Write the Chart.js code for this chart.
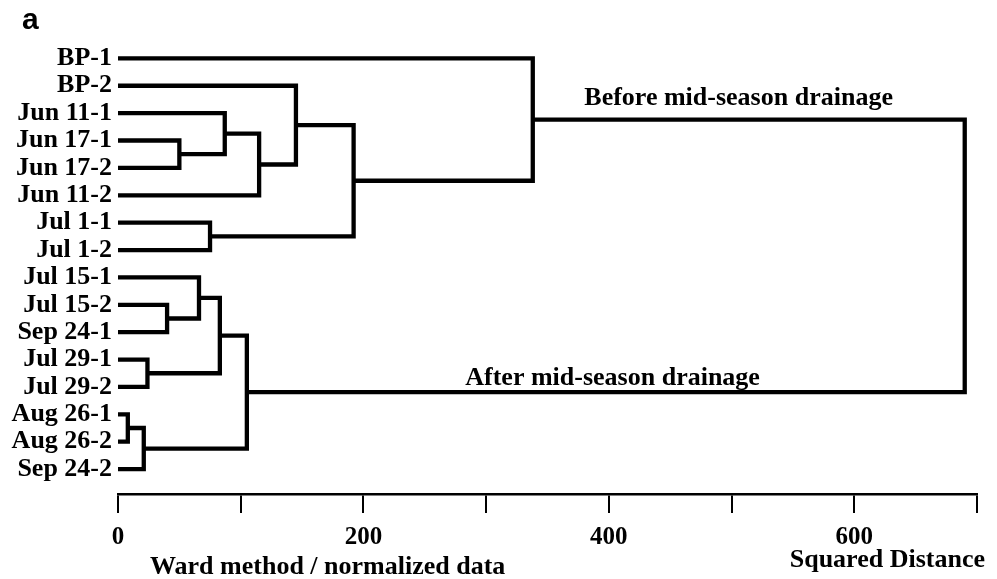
<!DOCTYPE html>
<html>
<head>
<meta charset="utf-8">
<script src="https://cdn.jsdelivr.net/npm/chart.js@4/dist/chart.umd.min.js"></script>
<style>
  body { margin: 0; background: #fff; }
  #wrap { width: 997px; height: 579px; position: relative; }
</style>
</head>
<body>
<div id="wrap"><canvas id="chart"></canvas></div>
<script>
'use strict';

// samples, top to bottom as they sit in the tree
const leaves = [
  'BP-1', 'BP-2', 'Jun 11-1', 'Jun 17-1', 'Jun 17-2', 'Jun 11-2', 'Jul 1-1', 'Jul 1-2',
  'Jul 15-1', 'Jul 15-2', 'Sep 24-1', 'Jul 29-1', 'Jul 29-2', 'Aug 26-1', 'Aug 26-2', 'Sep 24-2'
];

// merge steps: [child a, child b, squared distance]
// ids 0-15 are the leaves, merge k makes cluster 16 + k
const merges = [
  [3, 4, 50],
  [2, 16, 87],
  [17, 5, 115],
  [1, 18, 145],
  [6, 7, 75],
  [19, 20, 192],
  [0, 21, 338],
  [9, 10, 40],
  [8, 23, 66],
  [11, 12, 24],
  [24, 25, 83],
  [13, 14, 8],
  [27, 15, 21],
  [26, 28, 105],
  [22, 29, 690]
];

const xTickLabels = [0, 200, 400, 600];

// walk the merges, each one gives a U shaped link
const nodes = leaves.map((_, i) => ({ x: 0, y: i }));
const links = [];
merges.forEach(([a, b, h]) => {
  const A = nodes[a], B = nodes[b];
  links.push([
    { x: A.x, y: A.y }, { x: h, y: A.y },
    { x: h, y: B.y }, { x: B.x, y: B.y }
  ]);
  nodes.push({ x: h, y: (A.y + B.y) / 2 });
});

const serif = '"Liberation Serif", "Times New Roman", serif';

const textPlugin = {
  id: 'extraText',
  afterDraw(chart) {
    const ctx = chart.ctx;
    const sx = chart.scales.x, sy = chart.scales.y;
    ctx.save();
    ctx.fillStyle = '#000';
    ctx.textBaseline = 'alphabetic';
    ctx.textAlign = 'left';
    ctx.font = 'bold 30px "Liberation Sans", Arial, sans-serif';
    ctx.fillText('a', 22, 29);
    ctx.font = 'bold 26px ' + serif;
    ctx.fillText('Before mid-season drainage', sx.getPixelForValue(380), sy.getPixelForValue(1.7));
    ctx.fillText('After mid-season drainage', sx.getPixelForValue(283), sy.getPixelForValue(11.93));
    ctx.fillText('Ward method / normalized data', 150, 574);
    ctx.textAlign = 'right';
    ctx.fillText('Squared Distance', 985, 567);
    ctx.restore();
  }
};

const ctx = document.getElementById('chart').getContext('2d');
new Chart(ctx, {
  type: 'scatter',
  data: {
    datasets: links.map(pts => ({
      data: pts,
      showLine: true,
      borderColor: '#000',
      borderWidth: 4.3,
      borderJoinStyle: 'miter',
      pointRadius: 0,
      tension: 0
    }))
  },
  options: {
    responsive: true,
    maintainAspectRatio: false,
    animation: false,
    layout: { padding: { top: 31, right: 20, left: 0, bottom: 0 } },
    plugins: { legend: { display: false }, tooltip: { enabled: false } },
    scales: {
      x: {
        type: 'linear',
        min: 0,
        max: 700,
        afterFit: (s) => { s.height = 85; },
        border: { display: true, color: '#000', width: 2.5 },
        grid: { drawOnChartArea: false, drawTicks: true, tickLength: 19, color: '#000', lineWidth: 2 },
        ticks: {
          stepSize: 100,
          autoSkip: false,
          maxRotation: 0,
          padding: 10,
          color: '#000',
          font: { family: serif, size: 25, weight: 'bold' },
          callback: (v) => xTickLabels.includes(v) ? String(v) : ''
        }
      },
      y: {
        type: 'linear',
        reverse: true,
        min: -1,
        max: 15.91,
        afterFit: (s) => { s.width = 118; },
        afterBuildTicks: (s) => { s.ticks = leaves.map((_, i) => ({ value: i })); },
        border: { display: false },
        grid: { display: false, drawTicks: false },
        ticks: {
          autoSkip: false,
          padding: 6,
          color: '#000',
          font: { family: serif, size: 26, weight: 'bold' },
          callback: (v) => leaves[v]
        }
      }
    }
  },
  plugins: [textPlugin]
});
</script>
</body>
</html>
